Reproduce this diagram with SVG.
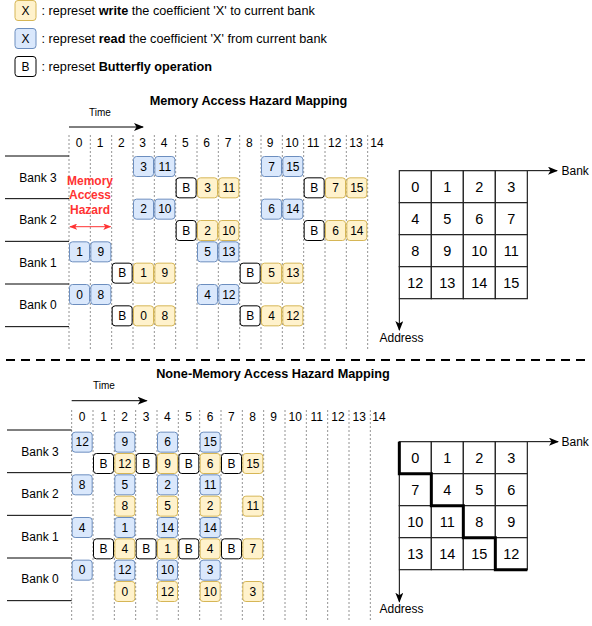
<svg xmlns="http://www.w3.org/2000/svg" width="592" height="626" viewBox="0 0 592 626">
<defs>
<style>
text{font-family:"Liberation Sans",Arial,Helvetica,sans-serif;fill:#000}
.t12{font-size:12px}
.lg{font-size:12.7px}
.c{text-anchor:middle}
.rd rect{fill:#dae8fc;stroke:#6c8ebf;stroke-width:1}
.wr rect{fill:#fff2cc;stroke:#d6b656;stroke-width:1}
.bf rect{fill:#fff;stroke:#000;stroke-width:1}
.box text{font-size:12px;text-anchor:middle}
.col{stroke:#777;stroke-width:0.8;stroke-dasharray:2 2;fill:none}
.bank{stroke:#000;stroke-width:1;fill:none}
.grid rect{fill:#fff;stroke:#222;stroke-width:1.2}
.grid text{font-size:14.5px;text-anchor:middle}
.title{font-size:12.7px;font-weight:bold;text-anchor:middle}
</style>
<marker id="ah" viewBox="0 0 10 8" refX="9" refY="4" markerWidth="10" markerHeight="8" markerUnits="userSpaceOnUse" orient="auto">
<path d="M0,0 L10,4 L0,8 L2.5,4 z" fill="#000"/>
</marker>
<marker id="rh" viewBox="0 0 10 8" refX="9" refY="4" markerWidth="8" markerHeight="6.4" markerUnits="userSpaceOnUse" orient="auto-start-reverse">
<path d="M0,0 L10,4 L0,8 L2.5,4 z" fill="#FF3333"/>
</marker>
</defs>

<!-- Legend -->
<g id="legend-write" class="box wr">
<rect x="15" y="0.5" width="21" height="20" rx="3"/>
<text x="25.5" y="15">X</text>
</g>
<text class="lg" x="41.5" y="15">: represet <tspan font-weight="bold">write</tspan> the coefficient 'X' to current bank</text>
<g id="legend-read" class="box rd">
<rect x="15" y="28.5" width="21" height="20" rx="3"/>
<text x="25.5" y="43">X</text>
</g>
<text class="lg" x="41.5" y="43">: represet <tspan font-weight="bold">read</tspan> the coefficient 'X' from current bank</text>
<g id="legend-bf" class="box bf">
<rect x="15" y="56.5" width="21" height="20" rx="3"/>
<text x="25.5" y="71">B</text>
</g>
<text class="lg" x="41.5" y="71">: represet <tspan font-weight="bold">Butterfly operation</tspan></text>

<!-- ===== Top: Memory Access Hazard Mapping ===== -->
<text class="title" x="248.5" y="105">Memory Access Hazard Mapping</text>
<text x="100" y="115.5" font-size="10" text-anchor="middle">Time</text>

<g id="top-columns" class="col">
<line x1="69" y1="135" x2="69" y2="350"/>
<line x1="90.33" y1="135" x2="90.33" y2="350"/>
<line x1="111.67" y1="135" x2="111.67" y2="350"/>
<line x1="133" y1="135" x2="133" y2="350"/>
<line x1="154.33" y1="135" x2="154.33" y2="350"/>
<line x1="175.67" y1="135" x2="175.67" y2="350"/>
<line x1="197" y1="135" x2="197" y2="350"/>
<line x1="218.33" y1="135" x2="218.33" y2="350"/>
<line x1="239.67" y1="135" x2="239.67" y2="350"/>
<line x1="261" y1="135" x2="261" y2="350"/>
<line x1="282.33" y1="135" x2="282.33" y2="350"/>
<line x1="303.67" y1="135" x2="303.67" y2="350"/>
<line x1="325" y1="135" x2="325" y2="350"/>
<line x1="346.33" y1="135" x2="346.33" y2="350"/>
<line x1="367.67" y1="135" x2="367.67" y2="350"/>
</g>
<g id="top-col-labels" class="t12 c">
<text x="79" y="147">0</text><text x="100" y="147">1</text><text x="121.3" y="147">2</text>
<text x="142.7" y="147">3</text><text x="164" y="147">4</text><text x="185.3" y="147">5</text>
<text x="206.7" y="147">6</text><text x="228" y="147">7</text><text x="249.3" y="147">8</text>
<text x="270.2" y="147">9</text><text x="292" y="147">10</text><text x="313.3" y="147">11</text>
<text x="334.7" y="147">12</text><text x="356" y="147">13</text><text x="377" y="147">14</text>
</g>

<g id="top-banks">
<g class="bank">
<line x1="5" y1="156" x2="69" y2="156"/>
<line x1="5" y1="198.67" x2="69" y2="198.67"/>
<line x1="5" y1="241.33" x2="69" y2="241.33"/>
<line x1="5" y1="284" x2="69" y2="284"/>
<line x1="5" y1="326.67" x2="69" y2="326.67"/>
</g>
<text class="t12 c" x="38" y="181.5">Bank 3</text>
<text class="t12 c" x="38" y="224">Bank 2</text>
<text class="t12 c" x="38" y="266.7">Bank 1</text>
<text class="t12 c" x="38" y="309.3">Bank 0</text>
</g>

<g id="hazard">
<text x="90" y="185" font-size="12" font-weight="bold" text-anchor="middle" style="fill:#FF3333">Memory</text>
<text x="90" y="199.3" font-size="12" font-weight="bold" text-anchor="middle" style="fill:#FF3333">Access</text>
<text x="90" y="213.6" font-size="12" font-weight="bold" text-anchor="middle" style="fill:#FF3333">Hazard</text>
</g>

<g id="connectors">
<line x1="69" y1="127" x2="143" y2="127" stroke="#000" stroke-width="1" marker-end="url(#ah)"/>
<line x1="70" y1="226.7" x2="110.5" y2="226.7" stroke="#FF3333" stroke-width="1" marker-start="url(#rh)" marker-end="url(#rh)"/>
<line x1="71.67" y1="400.7" x2="146.7" y2="400.7" stroke="#000" stroke-width="1" marker-end="url(#ah)"/>
<line x1="527.33" y1="170.67" x2="557" y2="170.67" stroke="#000" stroke-width="1" marker-end="url(#ah)"/>
<line x1="399.33" y1="298.67" x2="399.33" y2="330" stroke="#000" stroke-width="1" marker-end="url(#ah)"/>
<line x1="527.33" y1="441.67" x2="558" y2="441.67" stroke="#000" stroke-width="1" marker-end="url(#ah)"/>
<line x1="399.33" y1="569.67" x2="399.33" y2="601.7" stroke="#000" stroke-width="1" marker-end="url(#ah)"/>
<line x1="6" y1="360" x2="590" y2="360" stroke="#000" stroke-width="2" stroke-dasharray="9 6"/>
</g>

<g id="top-ops">
<!-- Bank 3 -->
<g class="box rd" transform="translate(133.5,156.5)"><rect width="20" height="20" rx="3"/><text x="10" y="14.3">3</text></g>
<g class="box rd" transform="translate(154.83,156.5)"><rect width="20" height="20" rx="3"/><text x="10" y="14.3">11</text></g>
<g class="box rd" transform="translate(261.5,156.5)"><rect width="20" height="20" rx="3"/><text x="10" y="14.3">7</text></g>
<g class="box rd" transform="translate(282.83,156.5)"><rect width="20" height="20" rx="3"/><text x="10" y="14.3">15</text></g>
<g class="box bf" transform="translate(176.17,177.83)"><rect width="20" height="20" rx="3"/><text x="10" y="14.3">B</text></g>
<g class="box wr" transform="translate(197.5,177.83)"><rect width="20" height="20" rx="3"/><text x="10" y="14.3">3</text></g>
<g class="box wr" transform="translate(218.83,177.83)"><rect width="20" height="20" rx="3"/><text x="10" y="14.3">11</text></g>
<g class="box bf" transform="translate(304.17,177.83)"><rect width="20" height="20" rx="3"/><text x="10" y="14.3">B</text></g>
<g class="box wr" transform="translate(325.5,177.83)"><rect width="20" height="20" rx="3"/><text x="10" y="14.3">7</text></g>
<g class="box wr" transform="translate(346.83,177.83)"><rect width="20" height="20" rx="3"/><text x="10" y="14.3">15</text></g>
<!-- Bank 2 -->
<g class="box rd" transform="translate(133.5,199.17)"><rect width="20" height="20" rx="3"/><text x="10" y="14.3">2</text></g>
<g class="box rd" transform="translate(154.83,199.17)"><rect width="20" height="20" rx="3"/><text x="10" y="14.3">10</text></g>
<g class="box rd" transform="translate(261.5,199.17)"><rect width="20" height="20" rx="3"/><text x="10" y="14.3">6</text></g>
<g class="box rd" transform="translate(282.83,199.17)"><rect width="20" height="20" rx="3"/><text x="10" y="14.3">14</text></g>
<g class="box bf" transform="translate(176.17,220.5)"><rect width="20" height="20" rx="3"/><text x="10" y="14.3">B</text></g>
<g class="box wr" transform="translate(197.5,220.5)"><rect width="20" height="20" rx="3"/><text x="10" y="14.3">2</text></g>
<g class="box wr" transform="translate(218.83,220.5)"><rect width="20" height="20" rx="3"/><text x="10" y="14.3">10</text></g>
<g class="box bf" transform="translate(304.17,220.5)"><rect width="20" height="20" rx="3"/><text x="10" y="14.3">B</text></g>
<g class="box wr" transform="translate(325.5,220.5)"><rect width="20" height="20" rx="3"/><text x="10" y="14.3">6</text></g>
<g class="box wr" transform="translate(346.83,220.5)"><rect width="20" height="20" rx="3"/><text x="10" y="14.3">14</text></g>
<!-- Bank 1 -->
<g class="box rd" transform="translate(69.5,241.83)"><rect width="20" height="20" rx="3"/><text x="10" y="14.3">1</text></g>
<g class="box rd" transform="translate(90.83,241.83)"><rect width="20" height="20" rx="3"/><text x="10" y="14.3">9</text></g>
<g class="box rd" transform="translate(197.5,241.83)"><rect width="20" height="20" rx="3"/><text x="10" y="14.3">5</text></g>
<g class="box rd" transform="translate(218.83,241.83)"><rect width="20" height="20" rx="3"/><text x="10" y="14.3">13</text></g>
<g class="box bf" transform="translate(112.17,263.17)"><rect width="20" height="20" rx="3"/><text x="10" y="14.3">B</text></g>
<g class="box wr" transform="translate(133.5,263.17)"><rect width="20" height="20" rx="3"/><text x="10" y="14.3">1</text></g>
<g class="box wr" transform="translate(154.83,263.17)"><rect width="20" height="20" rx="3"/><text x="10" y="14.3">9</text></g>
<g class="box bf" transform="translate(240.17,263.17)"><rect width="20" height="20" rx="3"/><text x="10" y="14.3">B</text></g>
<g class="box wr" transform="translate(261.5,263.17)"><rect width="20" height="20" rx="3"/><text x="10" y="14.3">5</text></g>
<g class="box wr" transform="translate(282.83,263.17)"><rect width="20" height="20" rx="3"/><text x="10" y="14.3">13</text></g>
<!-- Bank 0 -->
<g class="box rd" transform="translate(69.5,284.5)"><rect width="20" height="20" rx="3"/><text x="10" y="14.3">0</text></g>
<g class="box rd" transform="translate(90.83,284.5)"><rect width="20" height="20" rx="3"/><text x="10" y="14.3">8</text></g>
<g class="box rd" transform="translate(197.5,284.5)"><rect width="20" height="20" rx="3"/><text x="10" y="14.3">4</text></g>
<g class="box rd" transform="translate(218.83,284.5)"><rect width="20" height="20" rx="3"/><text x="10" y="14.3">12</text></g>
<g class="box bf" transform="translate(112.17,305.83)"><rect width="20" height="20" rx="3"/><text x="10" y="14.3">B</text></g>
<g class="box wr" transform="translate(133.5,305.83)"><rect width="20" height="20" rx="3"/><text x="10" y="14.3">0</text></g>
<g class="box wr" transform="translate(154.83,305.83)"><rect width="20" height="20" rx="3"/><text x="10" y="14.3">8</text></g>
<g class="box bf" transform="translate(240.17,305.83)"><rect width="20" height="20" rx="3"/><text x="10" y="14.3">B</text></g>
<g class="box wr" transform="translate(261.5,305.83)"><rect width="20" height="20" rx="3"/><text x="10" y="14.3">4</text></g>
<g class="box wr" transform="translate(282.83,305.83)"><rect width="20" height="20" rx="3"/><text x="10" y="14.3">12</text></g>
</g>

<g id="top-grid" class="grid">
<g transform="translate(399.33,170.67)">
<rect x="0" y="0" width="32" height="32"/><rect x="32" y="0" width="32" height="32"/><rect x="64" y="0" width="32" height="32"/><rect x="96" y="0" width="32" height="32"/>
<rect x="0" y="32" width="32" height="32"/><rect x="32" y="32" width="32" height="32"/><rect x="64" y="32" width="32" height="32"/><rect x="96" y="32" width="32" height="32"/>
<rect x="0" y="64" width="32" height="32"/><rect x="32" y="64" width="32" height="32"/><rect x="64" y="64" width="32" height="32"/><rect x="96" y="64" width="32" height="32"/>
<rect x="0" y="96" width="32" height="32"/><rect x="32" y="96" width="32" height="32"/><rect x="64" y="96" width="32" height="32"/><rect x="96" y="96" width="32" height="32"/>
<text x="16" y="21">0</text><text x="48" y="21">1</text><text x="80" y="21">2</text><text x="112" y="21">3</text>
<text x="16" y="53">4</text><text x="48" y="53">5</text><text x="80" y="53">6</text><text x="112" y="53">7</text>
<text x="16" y="85">8</text><text x="48" y="85">9</text><text x="80" y="85">10</text><text x="112" y="85">11</text>
<text x="16" y="117">12</text><text x="48" y="117">13</text><text x="80" y="117">14</text><text x="112" y="117">15</text>
</g>
</g>
<text class="t12" x="561.5" y="175">Bank</text>
<text class="t12 c" x="401.5" y="342">Address</text>

<!-- ===== Bottom: None-Memory Access Hazard Mapping ===== -->
<text class="title" x="273" y="378">None-Memory Access Hazard Mapping</text>
<text x="104" y="389" font-size="10" text-anchor="middle">Time</text>

<g id="bottom-columns" class="col">
<line x1="71.67" y1="410" x2="71.67" y2="622"/>
<line x1="93" y1="410" x2="93" y2="622"/>
<line x1="114.33" y1="410" x2="114.33" y2="622"/>
<line x1="135.67" y1="410" x2="135.67" y2="622"/>
<line x1="157" y1="410" x2="157" y2="622"/>
<line x1="178.33" y1="410" x2="178.33" y2="622"/>
<line x1="199.67" y1="410" x2="199.67" y2="622"/>
<line x1="221" y1="410" x2="221" y2="622"/>
<line x1="242.33" y1="410" x2="242.33" y2="622"/>
<line x1="263.67" y1="410" x2="263.67" y2="622"/>
<line x1="285" y1="410" x2="285" y2="622"/>
<line x1="306.33" y1="410" x2="306.33" y2="622"/>
<line x1="327.67" y1="410" x2="327.67" y2="622"/>
<line x1="349" y1="410" x2="349" y2="622"/>
<line x1="370.33" y1="410" x2="370.33" y2="622"/>
</g>
<g id="bottom-col-labels" class="t12 c">
<text x="82" y="421">0</text><text x="103.5" y="421">1</text><text x="124.5" y="421">2</text>
<text x="146" y="421">3</text><text x="167.3" y="421">4</text><text x="188.7" y="421">5</text>
<text x="210" y="421">6</text><text x="231.3" y="421">7</text><text x="252.7" y="421">8</text>
<text x="273.5" y="421">9</text><text x="295.3" y="421">10</text><text x="316.7" y="421">11</text>
<text x="338" y="421">12</text><text x="359.3" y="421">13</text><text x="379" y="421">14</text>
</g>

<g id="bottom-banks">
<g class="bank">
<line x1="7" y1="430" x2="71.67" y2="430"/>
<line x1="7" y1="472.67" x2="71.67" y2="472.67"/>
<line x1="7" y1="515.33" x2="71.67" y2="515.33"/>
<line x1="7" y1="558" x2="71.67" y2="558"/>
<line x1="7" y1="600.67" x2="71.67" y2="600.67"/>
</g>
<text class="t12 c" x="40" y="455.5">Bank 3</text>
<text class="t12 c" x="40" y="498">Bank 2</text>
<text class="t12 c" x="40" y="540.7">Bank 1</text>
<text class="t12 c" x="40" y="583.3">Bank 0</text>
</g>

<g id="bottom-ops">
<!-- column 0 reads -->
<g class="box rd" transform="translate(72.17,432.17)"><rect width="20" height="20" rx="3"/><text x="10" y="14.3">12</text></g>
<g class="box rd" transform="translate(72.17,474.83)"><rect width="20" height="20" rx="3"/><text x="10" y="14.3">8</text></g>
<g class="box rd" transform="translate(72.17,517.5)"><rect width="20" height="20" rx="3"/><text x="10" y="14.3">4</text></g>
<g class="box rd" transform="translate(72.17,560.17)"><rect width="20" height="20" rx="3"/><text x="10" y="14.3">0</text></g>
<!-- butterflies -->
<g class="box bf" transform="translate(93.5,453.5)"><rect width="20" height="20" rx="3"/><text x="10" y="14.3">B</text></g>
<g class="box bf" transform="translate(136.17,453.5)"><rect width="20" height="20" rx="3"/><text x="10" y="14.3">B</text></g>
<g class="box bf" transform="translate(178.83,453.5)"><rect width="20" height="20" rx="3"/><text x="10" y="14.3">B</text></g>
<g class="box bf" transform="translate(221.5,453.5)"><rect width="20" height="20" rx="3"/><text x="10" y="14.3">B</text></g>
<g class="box bf" transform="translate(93.5,538.83)"><rect width="20" height="20" rx="3"/><text x="10" y="14.3">B</text></g>
<g class="box bf" transform="translate(136.17,538.83)"><rect width="20" height="20" rx="3"/><text x="10" y="14.3">B</text></g>
<g class="box bf" transform="translate(178.83,538.83)"><rect width="20" height="20" rx="3"/><text x="10" y="14.3">B</text></g>
<g class="box bf" transform="translate(221.5,538.83)"><rect width="20" height="20" rx="3"/><text x="10" y="14.3">B</text></g>
<!-- column 2 -->
<g class="box rd" transform="translate(114.83,432.17)"><rect width="20" height="20" rx="3"/><text x="10" y="14.3">9</text></g>
<g class="box wr" transform="translate(114.83,453.5)"><rect width="20" height="20" rx="3"/><text x="10" y="14.3">12</text></g>
<g class="box rd" transform="translate(114.83,474.83)"><rect width="20" height="20" rx="3"/><text x="10" y="14.3">5</text></g>
<g class="box wr" transform="translate(114.83,496.17)"><rect width="20" height="20" rx="3"/><text x="10" y="14.3">8</text></g>
<g class="box rd" transform="translate(114.83,517.5)"><rect width="20" height="20" rx="3"/><text x="10" y="14.3">1</text></g>
<g class="box wr" transform="translate(114.83,538.83)"><rect width="20" height="20" rx="3"/><text x="10" y="14.3">4</text></g>
<g class="box rd" transform="translate(114.83,560.17)"><rect width="20" height="20" rx="3"/><text x="10" y="14.3">12</text></g>
<g class="box wr" transform="translate(114.83,581.5)"><rect width="20" height="20" rx="3"/><text x="10" y="14.3">0</text></g>
<!-- column 4 -->
<g class="box rd" transform="translate(157.5,432.17)"><rect width="20" height="20" rx="3"/><text x="10" y="14.3">6</text></g>
<g class="box wr" transform="translate(157.5,453.5)"><rect width="20" height="20" rx="3"/><text x="10" y="14.3">9</text></g>
<g class="box rd" transform="translate(157.5,474.83)"><rect width="20" height="20" rx="3"/><text x="10" y="14.3">2</text></g>
<g class="box wr" transform="translate(157.5,496.17)"><rect width="20" height="20" rx="3"/><text x="10" y="14.3">5</text></g>
<g class="box rd" transform="translate(157.5,517.5)"><rect width="20" height="20" rx="3"/><text x="10" y="14.3">14</text></g>
<g class="box wr" transform="translate(157.5,538.83)"><rect width="20" height="20" rx="3"/><text x="10" y="14.3">1</text></g>
<g class="box rd" transform="translate(157.5,560.17)"><rect width="20" height="20" rx="3"/><text x="10" y="14.3">10</text></g>
<g class="box wr" transform="translate(157.5,581.5)"><rect width="20" height="20" rx="3"/><text x="10" y="14.3">12</text></g>
<!-- column 6 -->
<g class="box rd" transform="translate(200.17,432.17)"><rect width="20" height="20" rx="3"/><text x="10" y="14.3">15</text></g>
<g class="box wr" transform="translate(200.17,453.5)"><rect width="20" height="20" rx="3"/><text x="10" y="14.3">6</text></g>
<g class="box rd" transform="translate(200.17,474.83)"><rect width="20" height="20" rx="3"/><text x="10" y="14.3">11</text></g>
<g class="box wr" transform="translate(200.17,496.17)"><rect width="20" height="20" rx="3"/><text x="10" y="14.3">2</text></g>
<g class="box rd" transform="translate(200.17,517.5)"><rect width="20" height="20" rx="3"/><text x="10" y="14.3">14</text></g>
<g class="box wr" transform="translate(200.17,538.83)"><rect width="20" height="20" rx="3"/><text x="10" y="14.3">4</text></g>
<g class="box rd" transform="translate(200.17,560.17)"><rect width="20" height="20" rx="3"/><text x="10" y="14.3">3</text></g>
<g class="box wr" transform="translate(200.17,581.5)"><rect width="20" height="20" rx="3"/><text x="10" y="14.3">10</text></g>
<!-- column 8 -->
<g class="box wr" transform="translate(242.83,453.5)"><rect width="20" height="20" rx="3"/><text x="10" y="14.3">15</text></g>
<g class="box wr" transform="translate(242.83,496.17)"><rect width="20" height="20" rx="3"/><text x="10" y="14.3">11</text></g>
<g class="box wr" transform="translate(242.83,538.83)"><rect width="20" height="20" rx="3"/><text x="10" y="14.3">7</text></g>
<g class="box wr" transform="translate(242.83,581.5)"><rect width="20" height="20" rx="3"/><text x="10" y="14.3">3</text></g>
</g>

<g id="bottom-grid" class="grid">
<g transform="translate(399.33,441.67)">
<rect x="0" y="0" width="32" height="32"/><rect x="32" y="0" width="32" height="32"/><rect x="64" y="0" width="32" height="32"/><rect x="96" y="0" width="32" height="32"/>
<rect x="0" y="32" width="32" height="32"/><rect x="32" y="32" width="32" height="32"/><rect x="64" y="32" width="32" height="32"/><rect x="96" y="32" width="32" height="32"/>
<rect x="0" y="64" width="32" height="32"/><rect x="32" y="64" width="32" height="32"/><rect x="64" y="64" width="32" height="32"/><rect x="96" y="64" width="32" height="32"/>
<rect x="0" y="96" width="32" height="32"/><rect x="32" y="96" width="32" height="32"/><rect x="64" y="96" width="32" height="32"/><rect x="96" y="96" width="32" height="32"/>
<text x="16" y="21">0</text><text x="48" y="21">1</text><text x="80" y="21">2</text><text x="112" y="21">3</text>
<text x="16" y="53">7</text><text x="48" y="53">4</text><text x="80" y="53">5</text><text x="112" y="53">6</text>
<text x="16" y="85">10</text><text x="48" y="85">11</text><text x="80" y="85">8</text><text x="112" y="85">9</text>
<text x="16" y="117">13</text><text x="48" y="117">14</text><text x="80" y="117">15</text><text x="112" y="117">12</text>
<path d="M0,0 V32 H32 V64 H64 V96 H96 V128 H128" fill="none" stroke="#000" stroke-width="3"/>
</g>
</g>
<text class="t12" x="561.5" y="446">Bank</text>
<text class="t12 c" x="401.5" y="613">Address</text>
</svg>
